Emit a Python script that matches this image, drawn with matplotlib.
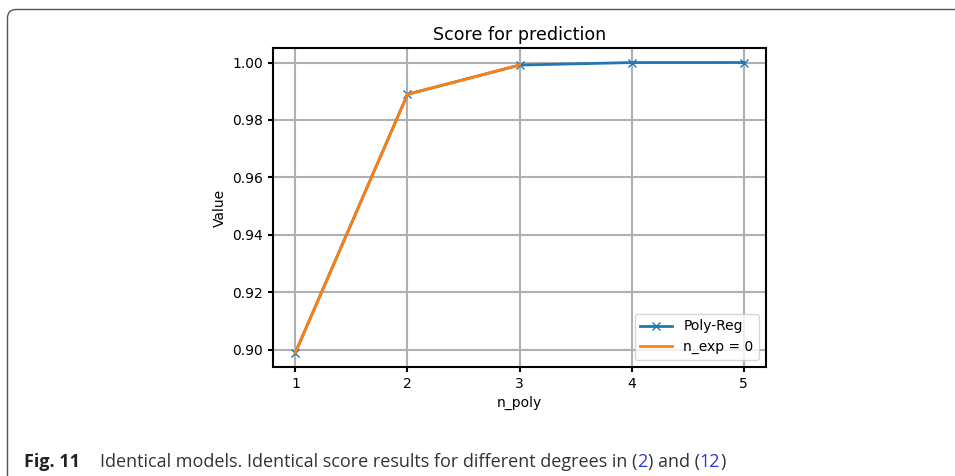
import matplotlib
matplotlib.use('Agg')
import matplotlib.pyplot as plt
from matplotlib.patches import FancyBboxPatch

# data
n_poly = [1, 2, 3, 4, 5]
score_poly = [0.899, 0.9889, 0.9991, 0.99998, 1.0]
n_exp_x = [1, 2, 3]
score_exp = [0.899, 0.9889, 0.9991]

fig = plt.figure(figsize=(9.55, 4.76), dpi=100)

# frame around the figure (rounded corner top-left, open to right/bottom)
box = FancyBboxPatch((7.5 / 955, -0.2), 1.2, 1.2 - 9.5 / 476,
                     boxstyle='round,pad=0,rounding_size=0.009',
                     transform=fig.transFigure, fill=False,
                     edgecolor='#555555', linewidth=1.0, mutation_aspect=2.0)
fig.patches.append(box)

ax = fig.add_axes([273 / 955, 1 - 367 / 476, 493 / 955, 319 / 476])
ax.plot(n_poly, score_poly, marker='x', color='#1f77b4', lw=2, label='Poly-Reg')
ax.plot(n_exp_x, score_exp, color='#ff7f0e', lw=2, label='n_exp = 0')
ax.set_title('Score for prediction', fontsize=12.6)
ax.set_xlabel('n_poly')
ax.set_ylabel('Value')
ax.set_xticks(n_poly)
ax.set_yticks([0.90, 0.92, 0.94, 0.96, 0.98, 1.00])
ax.grid(True, color='#b0b0b0', linewidth=1.5)
ax.set_axisbelow(True)
for s in ax.spines.values():
    s.set_linewidth(1.5)
ax.tick_params(width=1.5)
ax.legend(loc='lower right', handlelength=2.3)

# caption, built from pieces so the references can be blue
pieces = [('Fig. 11', 'bold', '#222222', 0),
          ('Identical models. Identical score results for different degrees in (', 'normal', '#333333', 20),
          ('2', 'normal', '#3333dd', 0),
          (') and (', 'normal', '#333333', 0),
          ('12', 'normal', '#3333dd', 0),
          (')', 'normal', '#333333', 0)]
fig.canvas.draw()
r = fig.canvas.get_renderer()
x = 24
for txt, w, c, gap in pieces:
    x += gap
    t = fig.text(x / 955, 1 - 467 / 476, txt, fontsize=13, fontweight=w,
                 color=c, family='Open Sans', va='baseline', ha='left')
    bb = t.get_window_extent(renderer=r)
    x += bb.width

fig.savefig('out.png', dpi=100)
